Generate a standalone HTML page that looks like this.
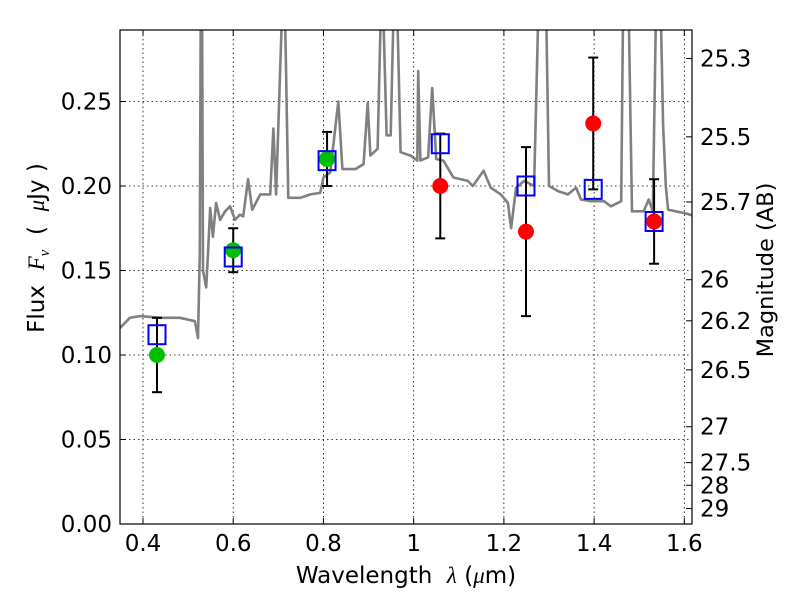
<!DOCTYPE html>
<html><head><meta charset="utf-8"><style>
body{margin:0;background:#fff;}
svg text{font-family:"DejaVu Sans","Liberation Sans",sans-serif;fill:#000;white-space:pre;}
</style></head><body>
<svg id="chart" width="800" height="600" xmlns="http://www.w3.org/2000/svg">
<defs><clipPath id="clip"><rect x="120" y="30" width="572" height="494"/></clipPath></defs>
<g id="grid"></g>
<g id="spec" clip-path="url(#clip)"></g>
<g id="marks"></g>
<rect x="120" y="30" width="572" height="494" fill="none" stroke="#000" stroke-width="1.2"/>
<g id="axes"></g>
<text x="406" y="583" font-size="23" text-anchor="middle" xml:space="preserve">Wavelength  <tspan font-style="italic" font-family="Liberation Serif,serif">λ</tspan> (<tspan font-style="italic" font-family="Liberation Serif,serif">μ</tspan>m)</text>
<text transform="translate(44,248) rotate(-90)" font-size="23" text-anchor="middle" xml:space="preserve">Flux  <tspan font-style="italic" font-family="Liberation Serif,serif">F</tspan><tspan font-style="italic" font-size="15" dy="5" font-family="Liberation Serif,serif">ν</tspan><tspan dy="-5">  (  </tspan><tspan font-style="italic" font-family="Liberation Serif,serif">μ</tspan>Jy )</text>
<text transform="translate(773,270) rotate(-90)" font-size="22.5" text-anchor="middle">Magnitude (AB)</text>
</svg>
<script>
const specWave=[0.349,0.371,0.393,0.438,0.482,0.515,0.522,0.526,0.528,0.531,0.533,0.540,0.544,0.549,0.555,0.562,0.571,0.582,0.593,0.604,0.615,0.622,0.633,0.642,0.660,0.682,0.689,0.695,0.708,0.715,0.722,0.749,0.771,0.793,0.800,0.815,0.833,0.842,0.871,0.889,0.898,0.904,0.920,0.927,0.933,0.940,0.949,0.955,0.964,0.971,0.993,1.008,1.010,1.015,1.032,1.041,1.050,1.066,1.088,1.120,1.131,1.155,1.171,1.193,1.209,1.216,1.227,1.245,1.267,1.276,1.294,1.300,1.320,1.342,1.360,1.371,1.393,1.422,1.437,1.460,1.464,1.477,1.484,1.510,1.521,1.530,1.537,1.548,1.553,1.559,1.564,1.599,1.626];
const specFlux=[0.116,0.122,0.123,0.122,0.122,0.120,0.110,0.16,0.30,0.30,0.15,0.14,0.16,0.187,0.17,0.19,0.18,0.185,0.188,0.180,0.183,0.182,0.204,0.186,0.195,0.195,0.234,0.195,0.30,0.30,0.193,0.193,0.195,0.196,0.205,0.208,0.250,0.210,0.210,0.213,0.249,0.218,0.222,0.30,0.30,0.23,0.23,0.30,0.30,0.22,0.218,0.215,0.268,0.215,0.217,0.258,0.216,0.215,0.205,0.203,0.200,0.209,0.199,0.195,0.190,0.175,0.199,0.203,0.200,0.30,0.30,0.200,0.197,0.195,0.199,0.192,0.191,0.191,0.188,0.191,0.30,0.30,0.185,0.185,0.192,0.185,0.30,0.30,0.236,0.20,0.186,0.184,0.182];
const greenWave=[0.431,0.600,0.808];
const greenFlux=[0.100,0.162,0.216];
const greenErr=[0.022,0.013,0.016];
const redWave=[1.059,1.249,1.398,1.533];
const redFlux=[0.200,0.173,0.237,0.179];
const redErr=[0.031,0.050,0.039,0.025];
const boxWave=[0.431,0.600,0.808,1.059,1.249,1.398,1.533];
const boxFlux=[0.112,0.158,0.215,0.225,0.200,0.198,0.179];
const xTicks=[0.4,0.6,0.8,1.0,1.2,1.4,1.6];
const xTickLabels=["0.4","0.6","0.8","1","1.2","1.4","1.6"];
const yTicks=[0,0.05,0.10,0.15,0.20,0.25];
const yTickLabels=["0.00","0.05","0.10","0.15","0.20","0.25"];
const magTicks=[25.3,25.5,25.7,26,26.2,26.5,27,27.5,28,29];
const magLabels=["25.3","25.5","25.7","26","26.2","26.5","27","27.5","28","29"];

const X0=120,X1=692,Y0=524,Y1=30,xmin=0.349,xmax=1.617,ymin=0,ymax=0.2923;
const sx=v=>X0+(v-xmin)/(xmax-xmin)*(X1-X0);
const sy=v=>Y0-(v-ymin)/(ymax-ymin)*(Y0-Y1);
const NS="http://www.w3.org/2000/svg";
function mk(tag,attrs,parent){const e=document.createElementNS(NS,tag);for(const k in attrs)e.setAttribute(k,attrs[k]);parent.appendChild(e);return e;}
const grid=document.getElementById('grid'),axes=document.getElementById('axes'),spec=document.getElementById('spec'),marks=document.getElementById('marks');
xTicks.forEach((t,i)=>{
 const x=sx(t);
 const g=mk('line',{x1:x,x2:x,y1:Y1,y2:Y0,stroke:'#000','stroke-width':0.8,'stroke-dasharray':'1.5,3'},grid);
 
 
 mk('line',{x1:x,x2:x,y1:Y0,y2:Y0-6,stroke:'#000'},axes);
 mk('line',{x1:x,x2:x,y1:Y1,y2:Y1+6,stroke:'#000'},axes);
 const tx=mk('text',{x:x,y:551,'font-size':23,'text-anchor':'middle'},axes);tx.textContent=xTickLabels[i];
 
 
});
yTicks.forEach((t,i)=>{
 const y=sy(t);
 if(i>0){const g=mk('line',{x1:X0,x2:X1,y1:y,y2:y,stroke:'#000','stroke-width':0.8,'stroke-dasharray':'1.5,3'},grid);
 
 }
 mk('line',{x1:X0,x2:X0+6,y1:y,y2:y,stroke:'#000'},axes);
 const tx=mk('text',{x:112,y:y+8,'font-size':23,'text-anchor':'end'},axes);tx.textContent=yTickLabels[i];
 
 
});
magTicks.forEach((m,i)=>{
 const f=Math.pow(10,(23.9-m)/2.5);const y=sy(f);
 mk('line',{x1:X1,x2:X1-6,y1:y,y2:y,stroke:'#000'},axes);
 const tx=mk('text',{x:700,y:y+8,'font-size':23},axes);tx.textContent=magLabels[i];
 
 
});
const pts=specWave.map((w,i)=>sx(w).toFixed(1)+','+sy(specFlux[i]).toFixed(1)).join(' ');
const pl=mk('polyline',{points:pts,fill:'none',stroke:'#808080','stroke-width':2.6,'stroke-linejoin':'round'},spec);


function errbar(w,f,e){const x=sx(w),a=sy(f+e),b=sy(f-e);
 mk('line',{x1:x,x2:x,y1:a,y2:b,stroke:'#000','stroke-width':2},marks);
 mk('line',{x1:x-5,x2:x+5,y1:a,y2:a,stroke:'#000','stroke-width':2},marks);
 mk('line',{x1:x-5,x2:x+5,y1:b,y2:b,stroke:'#000','stroke-width':2},marks);}
greenWave.forEach((w,i)=>errbar(w,greenFlux[i],greenErr[i]));
redWave.forEach((w,i)=>errbar(w,redFlux[i],redErr[i]));
greenWave.forEach((w,i)=>{const c=mk('circle',{cx:sx(w),cy:sy(greenFlux[i]),r:8,fill:'#00bf00'},marks);
 
 });
boxWave.forEach((w,i)=>{const r=mk('rect',{x:sx(w)-8.5,y:sy(boxFlux[i])-9.5,width:17,height:19,fill:'none',stroke:'#0000ff','stroke-width':2},marks);
 
 });
redWave.forEach((w,i)=>{const c=mk('circle',{cx:sx(w),cy:sy(redFlux[i]),r:8,fill:'#ff0000'},marks);
 
 });
</script>
</body></html>
